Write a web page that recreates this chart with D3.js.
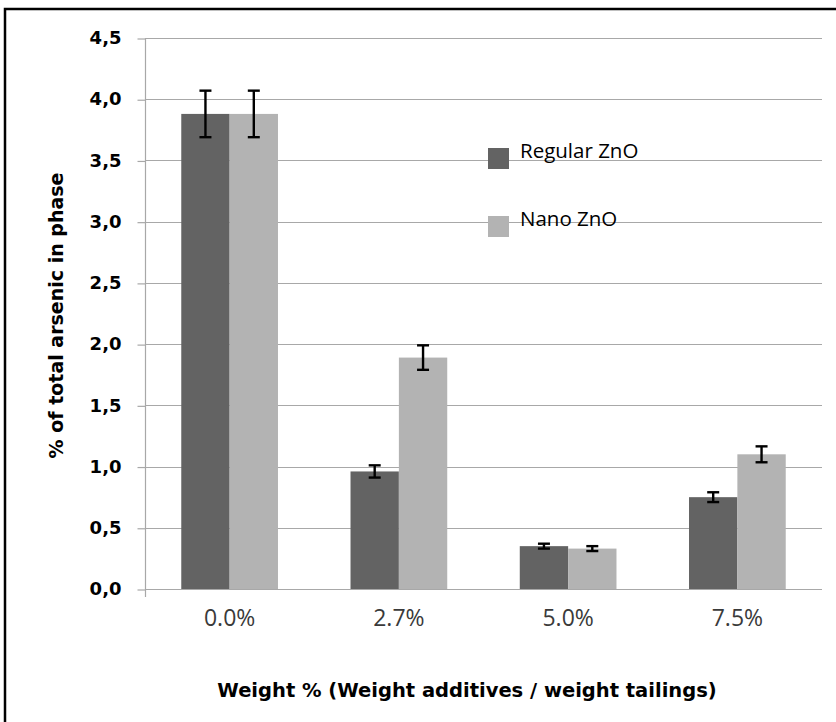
<!DOCTYPE html>
<html>
<head>
<meta charset="utf-8">
<script src="https://cdn.jsdelivr.net/npm/d3@7"></script>
<style>
  html, body { margin: 0; padding: 0; background: #fff; }
  svg { display: block; }
</style>
</head>
<body>
<svg id="chart" width="836" height="722"></svg>
<script>
// Arsenic share by additive dose, two ZnO types
const categories = ["0.0%", "2.7%", "5.0%", "7.5%"];
const seriesNames = ["Regular ZnO", "Nano ZnO"];
const regularValues = [3.88, 0.96, 0.35, 0.75];
const nanoValues = [3.88, 1.89, 0.33, 1.10];
const regularErrors = [0.19, 0.05, 0.02, 0.04];
const nanoErrors = [0.19, 0.10, 0.02, 0.065];
const yTicks = [0, 0.5, 1, 1.5, 2, 2.5, 3, 3.5, 4, 4.5];

const colors = { "Regular ZnO": "#636363", "Nano ZnO": "#b3b3b3" };
const boldFont = "'DejaVu Sans', sans-serif";
const plainFont = "'Open Sans', sans-serif";

const svg = d3.select("#chart");
const W = 836, H = 722;
const plot = { left: 145, right: 822, top: 38, bottom: 589 };

svg.append("rect").attr("width", W).attr("height", H).attr("fill", "#fff");

// outer frame (runs past the right and bottom edges)
svg.append("rect")
  .attr("x", 5).attr("y", 9).attr("width", 900).attr("height", 800)
  .attr("fill", "none").attr("stroke", "#000").attr("stroke-width", 2.5);

const y = d3.scaleLinear().domain([0, 4.5]).range([plot.bottom, plot.top]);
const x0 = d3.scaleBand().domain(categories)
  .range([plot.left, plot.right]).paddingInner(0.4286).paddingOuter(0.2143);
const x1 = d3.scaleBand().domain(seriesNames).range([0, x0.bandwidth()]);

// horizontal gridlines
svg.append("g").selectAll("line").data(yTicks).join("line")
  .attr("x1", plot.left).attr("x2", plot.right)
  .attr("y1", d => Math.round(y(d)) + 0.5).attr("y2", d => Math.round(y(d)) + 0.5)
  .attr("stroke", "#a8a8a8").attr("stroke-width", 1.2);

// y axis with comma decimal labels
const fmt = d => d3.format(".1f")(d).replace(".", ",");
const yAxis = d3.axisLeft(y).tickValues(yTicks).tickFormat(fmt).tickSize(8).tickPadding(16);
const gy = svg.append("g").attr("transform", `translate(${plot.left + 0.5},0)`).call(yAxis);
gy.select(".domain").remove();
gy.selectAll(".tick line").attr("stroke", "#a8a8a8").attr("stroke-width", 1.2)
  .attr("transform", "translate(0,0.5)");
gy.selectAll(".tick text")
  .attr("font-family", boldFont).attr("font-weight", "bold")
  .attr("font-size", 18).attr("fill", "#000");
svg.append("line")
  .attr("x1", plot.left + 0.5).attr("x2", plot.left + 0.5)
  .attr("y1", plot.top).attr("y2", plot.bottom + 8)
  .attr("stroke", "#a8a8a8").attr("stroke-width", 1.2);

// x axis labels
const xAxis = d3.axisBottom(x0).tickSize(0).tickPadding(21);
const gx = svg.append("g").attr("transform", `translate(0,${plot.bottom})`).call(xAxis);
gx.select(".domain").remove();
gx.selectAll(".tick text")
  .attr("font-family", plainFont).attr("font-size", 23)
  .attr("fill", "#3a3a3a");

// bars
const rows = categories.map((c, i) => ({
  cat: c,
  items: [
    { name: seriesNames[0], value: regularValues[i], err: regularErrors[i] },
    { name: seriesNames[1], value: nanoValues[i], err: nanoErrors[i] }
  ]
}));

const groups = svg.append("g").selectAll("g").data(rows).join("g")
  .attr("transform", d => `translate(${x0(d.cat)},0)`);

groups.selectAll("rect").data(d => d.items).join("rect")
  .attr("x", d => x1(d.name)).attr("width", x1.bandwidth())
  .attr("y", d => y(d.value)).attr("height", d => y(0) - y(d.value))
  .attr("fill", d => colors[d.name]);

// error bars
const capHalf = 6;
const eb = groups.selectAll("g.err").data(d => d.items).join("g").attr("class", "err")
  .attr("stroke", "#000").attr("stroke-width", 2.4);
eb.append("line")
  .attr("x1", d => x1(d.name) + x1.bandwidth() / 2).attr("x2", d => x1(d.name) + x1.bandwidth() / 2)
  .attr("y1", d => y(d.value + d.err)).attr("y2", d => y(d.value - d.err));
eb.append("line")
  .attr("x1", d => x1(d.name) + x1.bandwidth() / 2 - capHalf).attr("x2", d => x1(d.name) + x1.bandwidth() / 2 + capHalf)
  .attr("y1", d => y(d.value + d.err)).attr("y2", d => y(d.value + d.err));
eb.append("line")
  .attr("x1", d => x1(d.name) + x1.bandwidth() / 2 - capHalf).attr("x2", d => x1(d.name) + x1.bandwidth() / 2 + capHalf)
  .attr("y1", d => y(d.value - d.err)).attr("y2", d => y(d.value - d.err));

// baseline
svg.append("line")
  .attr("x1", plot.left).attr("x2", plot.right)
  .attr("y1", Math.round(y(0)) + 0.5).attr("y2", Math.round(y(0)) + 0.5)
  .attr("stroke", "#a8a8a8").attr("stroke-width", 1.2);

// legend
const legend = svg.append("g").attr("transform", "translate(488,148)");
const li = legend.selectAll("g").data(seriesNames).join("g")
  .attr("transform", (d, i) => `translate(0,${i * 68})`);
li.append("rect").attr("width", 21).attr("height", 21).attr("fill", d => colors[d]);
li.append("text").attr("x", 32).attr("y", 10)
  .attr("font-family", plainFont).attr("font-size", 20.5).attr("fill", "#000")
  .text(d => d);

// axis titles
svg.append("text")
  .attr("transform", `translate(63,${(plot.top + plot.bottom) / 2 + 2}) rotate(-90)`)
  .attr("text-anchor", "middle")
  .attr("font-family", boldFont).attr("font-weight", "bold")
  .attr("font-size", 19).attr("fill", "#000")
  .text("% of total arsenic in phase");

svg.append("text")
  .attr("x", 467).attr("y", 697).attr("text-anchor", "middle")
  .attr("font-family", boldFont).attr("font-weight", "bold")
  .attr("font-size", 19.5).attr("fill", "#000")
  .text("Weight % (Weight additives / weight tailings)");
</script>
</body>
</html>
